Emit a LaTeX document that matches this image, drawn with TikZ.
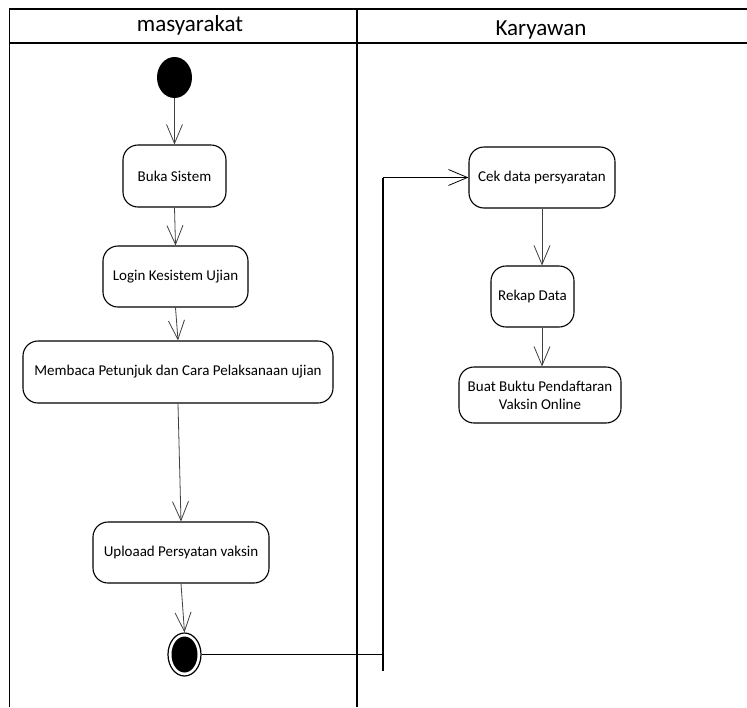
\documentclass[tikz,border=0pt]{standalone}
\usepackage{fontspec}
\setmainfont{Carlito}
\usetikzlibrary{arrows.meta,shapes.geometric}
\begin{document}
\begin{tikzpicture}[x=1pt,y=-1pt,
  act/.style={draw,line width=1.1pt,rounded corners=15pt,align=center,
    inner sep=2pt,font=\fontsize{15}{18}\selectfont},
  arr/.style={draw=black!75,line width=0.8pt,-{Straight Barb[length=19pt,width=16pt,line width=0.8pt]}},
  frame/.style={line width=1.6pt},
  lane/.style={font=\fontsize{23}{27}\selectfont}]
\useasboundingbox (0,0) rectangle (747,707);
% frame
\draw[frame] (9,9) -- (747,9);
\draw[frame] (9,43) -- (747,43);
\draw[frame] (9.5,9) -- (9.5,707);
\draw[frame] (357,9) -- (357,707);
\node[lane] (h1) at (190,25) {masyarakat};
\node[lane] (h2) at (541,30) {Karyawan};
% start
\node[ellipse,fill=black,minimum width=35pt,minimum height=41pt,inner sep=0pt] (start) at (174.5,77.5) {};
% activities
\node[act,minimum width=103pt,minimum height=62pt] (buka) at (174.5,176) {Buka Sistem};
\node[act,minimum width=145pt,minimum height=61pt] (login) at (175.5,276.5) {Login Kesistem Ujian};
\node[act,minimum width=310pt,minimum height=62pt] (baca) at (178,372) {Membaca Petunjuk dan Cara Pelaksanaan ujian};
\node[act,minimum width=176pt,minimum height=61pt] (upload) at (181,552.5) {Uploaad Persyatan vaksin};
\node[act,minimum width=146pt,minimum height=61pt] (cek) at (542,177.5) {Cek data persyaratan};
\node[act,minimum width=83pt,minimum height=61pt] (rekap) at (532.5,296.5) {Rekap Data};
\node[act,minimum width=162pt,minimum height=56pt] (buat) at (540,395) {Buat Buktu Pendaftaran\\Vaksin Online};
% end
\node[ellipse,draw,line width=1.2pt,minimum width=33pt,minimum height=43pt,inner sep=0pt] (end) at (184.5,654.5) {};
\node[ellipse,fill=black,minimum width=26pt,minimum height=36pt,inner sep=0pt] (endin) at (end.center) {};
% flows
\draw[arr] (start.south) -- (buka.north);
\draw[arr] (buka.south) -- (login.north);
\draw[arr] (login.south) -- (baca.north);
\draw[arr] (baca.south) -- (upload.north);
\draw[arr] (upload.south) -- (end.north);
\draw[arr] (cek.south) -- (cek.south |- rekap.north);
\draw[arr] (cek.south |- rekap.south) -- (cek.south |- buat.north);
\coordinate (jb) at (383,671);
\coordinate (jm) at (383,654.5);
\draw[line width=1.8pt] (end.east) -- (jm);
\draw[line width=1.4pt] (jb) -- (383,177.5) coordinate (jt);
\draw[arr,draw=black,line width=1.1pt] (jt) -- (cek.west);
\end{tikzpicture}
\end{document}
